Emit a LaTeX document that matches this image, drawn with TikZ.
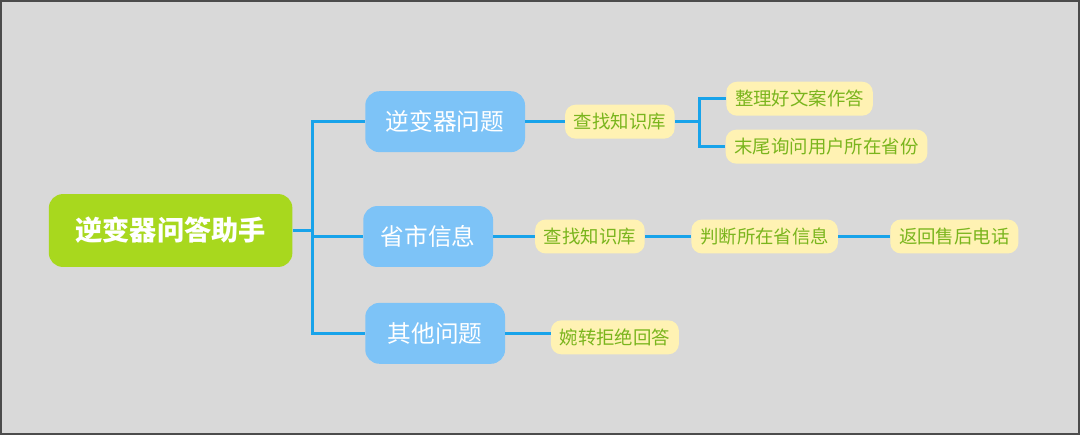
\documentclass[tikz,border=0pt]{standalone}
\usepackage{fontspec}
\setmainfont{Noto Sans CJK SC}
\usetikzlibrary{positioning}
\definecolor{bgGray}{HTML}{D9D9D9}
\definecolor{rootGreen}{HTML}{A8D81E}
\definecolor{topicBlue}{HTML}{7DC3F7}
\definecolor{leafYellow}{HTML}{FFF2B3}
\definecolor{leafText}{HTML}{7AB51D}
\definecolor{lineBlue}{HTML}{18A3EA}
\begin{document}
\begin{tikzpicture}[x=0.02cm, y=-0.02cm,
  root/.style={fill=rootGreen, text=white, rounded corners=8pt, minimum width=4.88cm, minimum height=1.46cm, font=\fontsize{15.5}{18}\selectfont\bfseries},
  topic/.style={fill=topicBlue, text=white, rounded corners=8pt, minimum height=1.22cm, inner xsep=10pt, font=\fontsize{13.5}{16}\selectfont},
  leaf/.style={fill=leafYellow, text=leafText, rounded corners=6pt, minimum height=0.68cm, inner xsep=5pt, font=\fontsize{10.5}{12}\selectfont},
  link/.style={draw=lineBlue, line width=1.8pt}]
  \draw[fill=bgGray, draw=black!70, line width=1pt] (0,0) rectangle (1080,434);

  \node[root] (help) at (170,230) {逆变器问答助手};

  \node[topic, minimum width=3.2cm] (inv) at (445,121) {逆变器问题};
  \node[topic, minimum width=2.54cm] (prov) at (428,236) {省市信息};
  \node[topic, minimum width=2.8cm] (other) at (435,333) {其他问题};

  % first branch
  \node[leaf] (kb1) at (620,121) {查找知识库};
  \node[leaf] (ans) at (800,98) {整理好文案作答};
  \node[leaf] (ask) at (827,146) {末尾询问用户所在省份};
  % second branch
  \node[leaf] (kb2) at (590,236) {查找知识库};
  \node[leaf] (judge) at (765,236) {判断所在省信息};
  \node[leaf] (phone) at (955,236) {返回售后电话};
  % third branch
  \node[leaf] (refuse) at (615,337) {婉转拒绝回答};

  \coordinate (trunk) at (312,230);
  \coordinate (split) at (700,121);

  \draw[link] (help) -- (trunk);
  \draw[link] (trunk) |- (inv);
  \draw[link] (trunk) |- (prov);
  \draw[link] (trunk) |- (other);

  \draw[link] (inv) -- (kb1);
  \draw[link] (kb1) -- (split);
  \draw[link] (split) |- (ans);
  \draw[link] (split) |- (ask);

  \draw[link] (prov) -- (kb2);
  \draw[link] (kb2) -- (judge);
  \draw[link] (judge) -- (phone);

  \draw[link] (other.east) -- (refuse.west |- other.east);
\end{tikzpicture}
\end{document}
